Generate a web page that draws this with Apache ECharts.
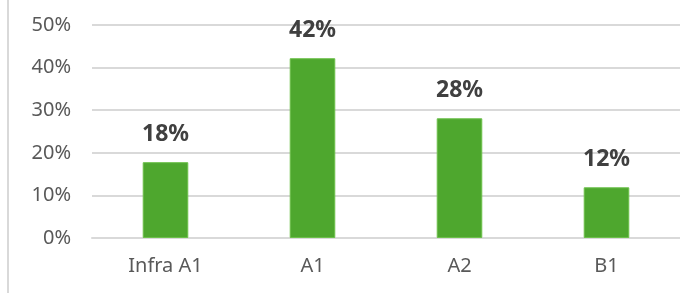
<!DOCTYPE html>
<html>
<head>
<meta charset="utf-8">
<script src="https://cdn.jsdelivr.net/npm/echarts@6/dist/echarts.min.js"></script>
<style>
  html, body { margin: 0; padding: 0; background: #fff; }
  #wrap { position: relative; width: 680px; height: 293px; }
  #edge { position: absolute; left: 7px; top: 0; width: 2px; height: 293px; background: #d9d9d9; }
  #chart { position: absolute; left: 0; top: 0; width: 680px; height: 293px; }
</style>
</head>
<body>
<div id="wrap">
  <div id="edge"></div>
  <div id="chart"></div>
</div>
<script>
// levels and share of respondents (%)
var categories = ["Infra A1", "A1", "A2", "B1"];
var shares = [17.8, 42.2, 28.1, 11.9];
var yTicks = [0, 10, 20, 30, 40, 50];

var fontFam = '"Noto Sans", "Open Sans", sans-serif';

var myChart = echarts.init(document.getElementById("chart"));

var option = {
    animation: false,
    grid: {
        left: 92,
        right: -2,
        top: 25,
        bottom: 55,
        containLabel: false
    },
    xAxis: {
        type: "category",
        data: categories,
        axisLine: { show: true, lineStyle: { color: "#d9d9d9", width: 2 } },
        axisTick: { show: false },
        axisLabel: {
            color: "#595959",
            fontSize: 20,
            fontFamily: fontFam,
            margin: 18
        }
    },
    yAxis: {
        type: "value",
        min: yTicks[0],
        max: yTicks[yTicks.length - 1],
        interval: 10,
        axisLine: { show: false },
        axisTick: { show: false },
        splitLine: { lineStyle: { color: "#d9d9d9", width: 2 } },
        axisLabel: {
            color: "#595959",
            fontSize: 20,
            fontFamily: fontFam,
            margin: 21,
            formatter: function (v) { return v + "%"; }
        }
    },
    series: [
        {
            type: "bar",
            data: shares,
            barWidth: "31%",
            itemStyle: { color: "#4ea72e", borderColor: "#6cc04a", borderWidth: 1 },
            label: {
                show: true,
                position: "top",
                distance: 16,
                color: "#404040",
                fontSize: 23,
                fontWeight: "bold",
                fontFamily: fontFam,
                formatter: function (p) { return Math.round(p.value) + "%"; }
            }
        }
    ]
};
myChart.setOption(option);
</script>
</body>
</html>
